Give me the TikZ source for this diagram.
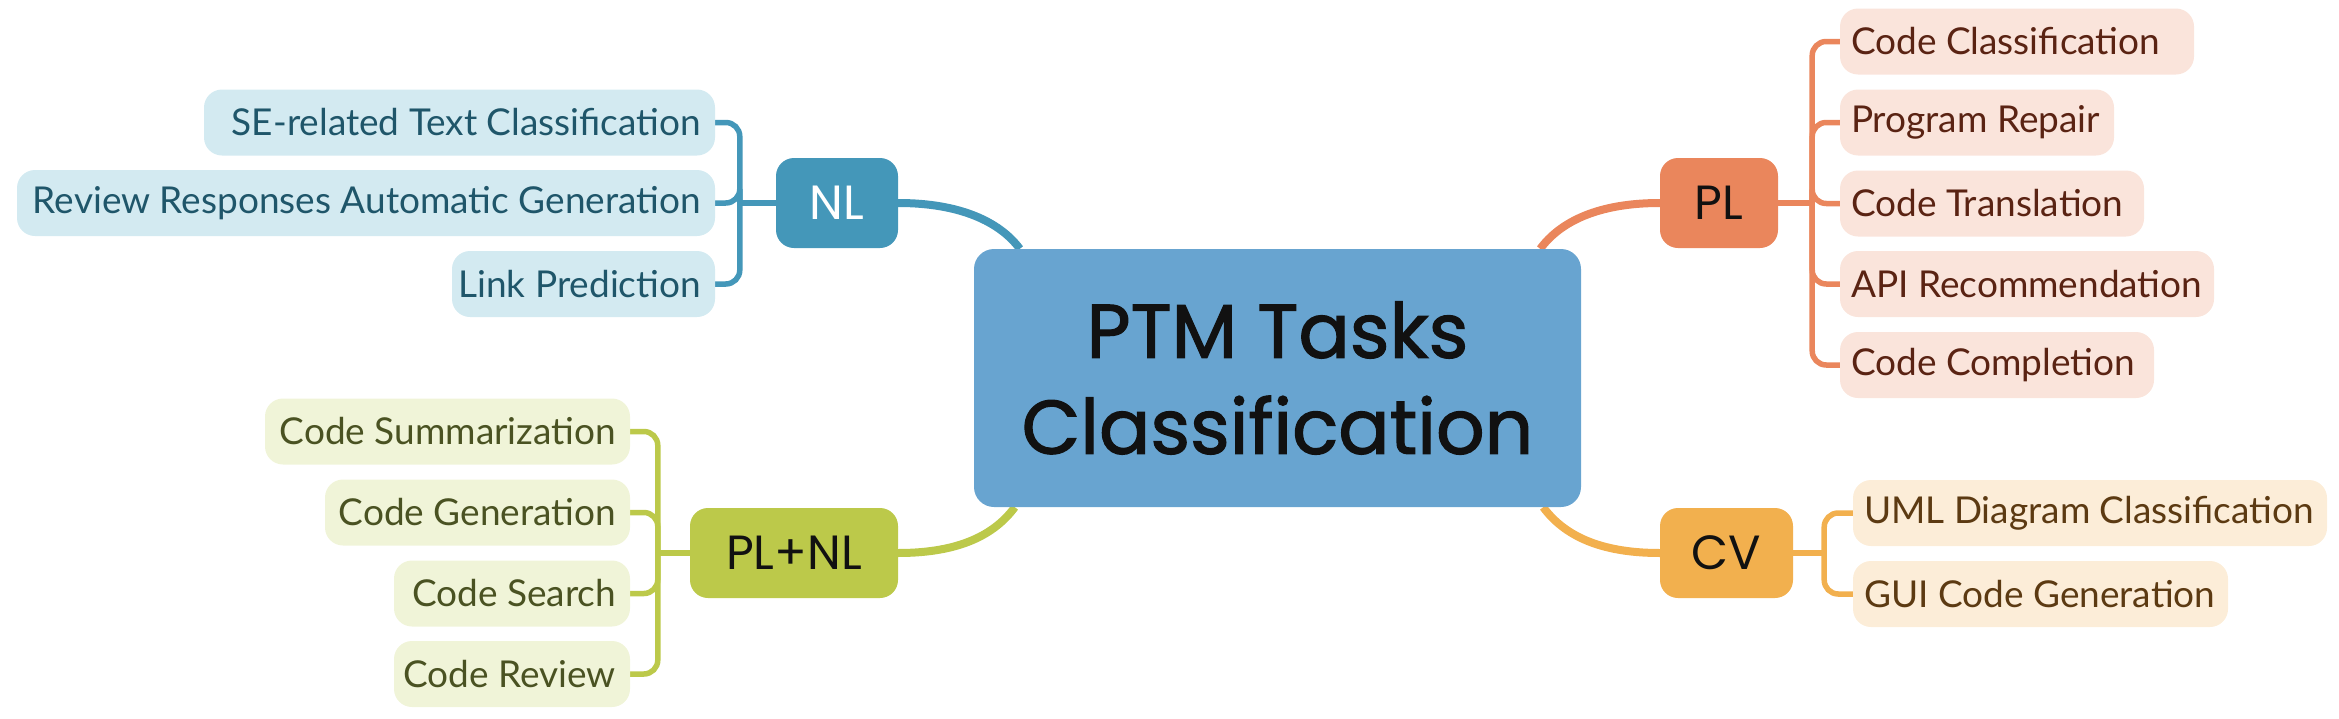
\documentclass[tikz,border=0pt]{standalone}
\usepackage{fontspec}
\setmainfont{Lato}
\newfontfamily\titlefont[FakeBold=1.6]{Poppins}
\newfontfamily\nodefont{Poppins}
\usetikzlibrary{backgrounds}
\newcommand\rtxt[2]{\makebox[#1][r]{#2}}
\newcommand\ltxt[2]{\makebox[#1][l]{#2}}
\definecolor{rootfill}{HTML}{68A4D0}
\definecolor{nlc}{HTML}{4497B9}
\definecolor{nlfill}{HTML}{D3EAF1}
\definecolor{nltext}{HTML}{1F566A}
\definecolor{plc}{HTML}{EA865C}
\definecolor{plfill}{HTML}{FAE4DB}
\definecolor{pltext}{HTML}{5A2313}
\definecolor{pnc}{HTML}{BCC94A}
\definecolor{pnfill}{HTML}{F0F4D8}
\definecolor{pntext}{HTML}{4A5222}
\definecolor{cvc}{HTML}{F2B04E}
\definecolor{cvfill}{HTML}{FCEDD8}
\definecolor{cvtext}{HTML}{5C3A12}
\definecolor{ink}{HTML}{111111}
\begin{document}
\begin{tikzpicture}[x=1pt,y=-1pt,
  rootbox/.style={fill=rootfill, rounded corners=20pt, minimum width=607pt, minimum height=258pt,
    inner sep=0pt, align=center, text=ink, font=\titlefont\fontsize{76}{96}\selectfont},
  mainbox/.style={rounded corners=18pt, minimum height=90pt, inner sep=0pt, text=ink,
    font=\nodefont\fontsize{48}{56}\selectfont},
  leafbox/.style={rounded corners=18pt, minimum height=66pt, inner ysep=0pt,
    font=\fontsize{37}{44}\selectfont},
  leftleaf/.style={leafbox, inner xsep=14pt},
  rightleaf/.style={leafbox, inner xsep=11pt},
  nlleaf/.style={leftleaf, fill=nlfill, text=nltext},
  plleaf/.style={rightleaf, fill=plfill, text=pltext},
  pnleaf/.style={leftleaf, fill=pnfill, text=pntext},
  cvleaf/.style={rightleaf, fill=cvfill, text=cvtext},
  mainline/.style={line width=8pt},
  subline/.style={line width=5.5pt, rounded corners=14pt},
]
\useasboundingbox (0,0) rectangle (2339,718);

\node[rootbox] (root) at (1277.5,378) {PTM Tasks\\Classification};

\node[mainbox, fill=nlc, text=white, minimum width=122pt] (NL) at (837,203) {NL};
\node[mainbox, fill=plc, minimum width=118pt] (PL) at (1719,203) {PL};
\node[mainbox, fill=pnc, minimum width=208pt] (PLNL) at (794,553) {PL+NL};
\node[mainbox, fill=cvc, minimum width=133pt] (CV) at (1726.5,553) {CV};

% NL leaves
\node[nlleaf] (n1) at (459.5,122.5) {\rtxt{483pt}{SE-related Text Classification}};
\node[nlleaf] (n2) at (366,203) {\rtxt{670pt}{Review Responses Automatic Generation}};
\node[nlleaf] (n3) at (583.5,284) {\rtxt{235pt}{Link Prediction}};

% PL leaves
\node[plleaf] (p1) at (2017,41.5) {\ltxt{332pt}{Code Classification}};
\node[plleaf] (p2) at (1977,122.5) {\ltxt{252pt}{Program Repair}};
\node[plleaf] (p3) at (1992,203.5) {\ltxt{282pt}{Code Translation}};
\node[plleaf] (p4) at (2027,284) {\ltxt{352pt}{API Recommendation}};
\node[plleaf] (p5) at (1997,365) {\ltxt{292pt}{Code Completion}};

% PL+NL leaves
\node[pnleaf] (q1) at (447.5,431.5) {\rtxt{337pt}{Code Summarization}};
\node[pnleaf] (q2) at (477.5,512.5) {\rtxt{277pt}{Code Generation}};
\node[pnleaf] (q3) at (512,593.5) {\rtxt{208pt}{Code Search}};
\node[pnleaf] (q4) at (512,674) {\rtxt{208pt}{Code Review}};

% CV leaves
\node[cvleaf] (c1) at (2090,513) {\ltxt{452pt}{UML Diagram Classification}};
\node[cvleaf] (c2) at (2040.5,594) {\ltxt{353pt}{GUI Code Generation}};

\coordinate (nlj) at ([xshift=-36pt]NL.west);
\coordinate (plj) at ([xshift=34pt]PL.east);
\coordinate (pnj) at ([xshift=-32pt]PLNL.west);
\coordinate (cvj) at ([xshift=31pt]CV.east);

\begin{scope}[on background layer]
  \draw[mainline, draw=nlc] (NL.east) .. controls +(62,0) and +(-20,-27) .. ([xshift=46pt]root.north west);
  \draw[mainline, draw=plc] (PL.west) .. controls +(-62,0) and +(20,-27) .. ([xshift=-41pt]root.north east);
  \draw[mainline, draw=pnc] (PLNL.east) .. controls +(62,0) and +(-20,27) .. ([xshift=41pt]root.south west);
  \draw[mainline, draw=cvc] (CV.west) .. controls +(-62,0) and +(20,27) .. ([xshift=-38pt]root.south east);

  \draw[subline, draw=nlc] (NL.west) -- (nlj);
  \foreach \n in {n1,n2,n3} \draw[subline, draw=nlc] (nlj) |- (\n.east);
  \draw[subline, draw=plc] (PL.east) -- (plj);
  \foreach \n in {p1,p2,p3,p4,p5} \draw[subline, draw=plc] (plj) |- (\n.west);
  \draw[subline, draw=pnc] (PLNL.west) -- (pnj);
  \foreach \n in {q1,q2,q3,q4} \draw[subline, draw=pnc] (pnj) |- (\n.east);
  \draw[subline, draw=cvc] (CV.east) -- (cvj);
  \foreach \n in {c1,c2} \draw[subline, draw=cvc] (cvj) |- (\n.west);
\end{scope}
\end{tikzpicture}
\end{document}
